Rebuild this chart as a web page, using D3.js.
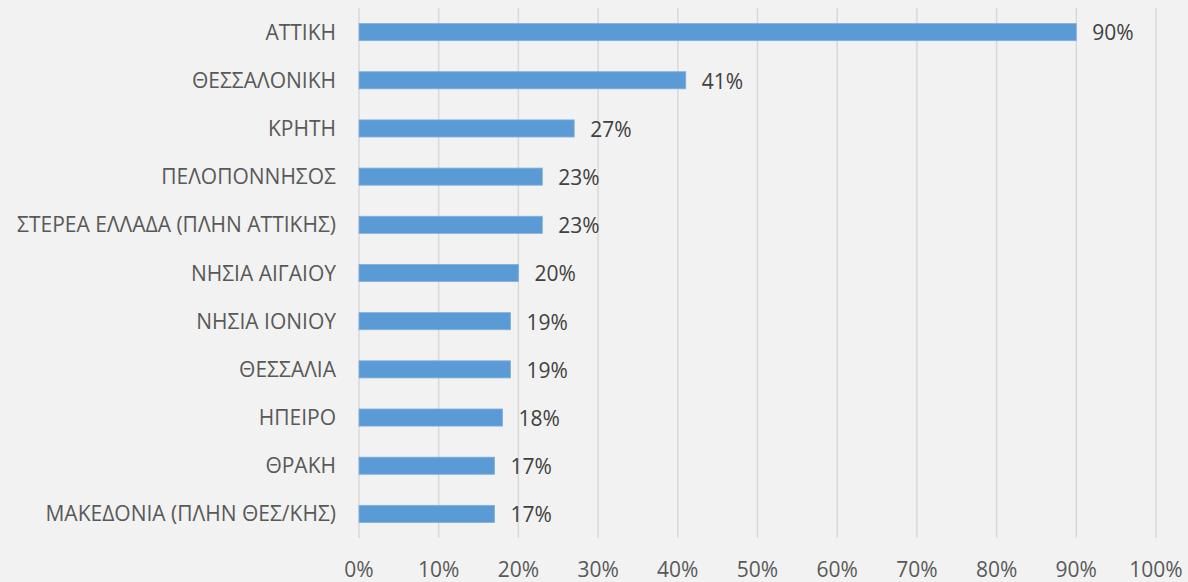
<!DOCTYPE html>
<html>
<head>
<meta charset="utf-8">
<script src="https://cdn.jsdelivr.net/npm/d3@7"></script>
<style>
  html, body { margin: 0; padding: 0; background: #f2f2f2; }
  svg { display: block; font-family: "Open Sans", sans-serif; }
</style>
</head>
<body>
<svg id="chart" width="1188" height="582"></svg>
<script>
var regions = ['ΑΤΤΙΚΗ', 'ΘΕΣΣΑΛΟΝΙΚΗ', 'ΚΡΗΤΗ', 'ΠΕΛΟΠΟΝΝΗΣΟΣ', 'ΣΤΕΡΕΑ ΕΛΛΑΔΑ (ΠΛΗΝ ΑΤΤΙΚΗΣ)',
    'ΝΗΣΙΑ ΑΙΓΑΙΟΥ', 'ΝΗΣΙΑ ΙΟΝΙΟΥ', 'ΘΕΣΣΑΛΙΑ', 'ΗΠΕΙΡΟ', 'ΘΡΑΚΗ', 'ΜΑΚΕΔΟΝΙΑ (ΠΛΗΝ ΘΕΣ/ΚΗΣ)'];
var shares = [0.90, 0.41, 0.27, 0.23, 0.23, 0.20, 0.19, 0.19, 0.18, 0.17, 0.17];
var ticks = [0, 0.1, 0.2, 0.3, 0.4, 0.5, 0.6, 0.7, 0.8, 0.9, 1.0];

var svg = d3.select('#chart');
var plotLeft = 359, plotRight = 1156, plotTop = 8, plotBottom = 538;

var x = d3.scaleLinear().domain([0, 1]).range([plotLeft, plotRight]);
var y = d3.scaleBand().domain(regions).range([plotTop, plotBottom]).paddingInner(0.645).paddingOuter(0.3225);
var fmt = d3.format('.0%');

// grid
svg.append('g').selectAll('line').data(ticks).enter().append('line')
    .attr('x1', function (d) { return x(d); })
    .attr('x2', function (d) { return x(d); })
    .attr('y1', plotTop).attr('y2', plotBottom)
    .style('stroke', '#d9d9d9').style('stroke-width', 1.5);

// tick labels
svg.append('g').selectAll('text').data(ticks).enter().append('text')
    .attr('x', function (d) { return x(d); })
    .attr('y', 577)
    .attr('text-anchor', 'middle')
    .style('font-size', '21px').style('fill', '#595959')
    .text(function (d) { return fmt(d); });

// bars
var rows = svg.append('g').selectAll('g').data(regions).enter().append('g');
rows.append('rect')
    .attr('x', x(0))
    .attr('y', function (d) { return y(d); })
    .attr('width', function (d, i) { return x(shares[i]) - x(0); })
    .attr('height', y.bandwidth())
    .style('fill', '#5b9bd5').style('stroke', '#7fb0de').style('stroke-width', 0.8);

rows.append('text')
    .attr('x', plotLeft - 23)
    .attr('y', function (d) { return y(d) + y.bandwidth() / 2; })
    .attr('dy', '0.36em')
    .attr('text-anchor', 'end')
    .style('font-size', '21px').style('fill', '#595959')
    .text(function (d) { return d; });

rows.append('text')
    .attr('x', function (d, i) { return x(shares[i]) + 16; })
    .attr('y', function (d) { return y(d) + y.bandwidth() / 2; })
    .attr('dy', '0.4em')
    .style('font-size', '21px').style('fill', '#404040')
    .text(function (d, i) { return fmt(shares[i]); });
</script>
</body>
</html>
